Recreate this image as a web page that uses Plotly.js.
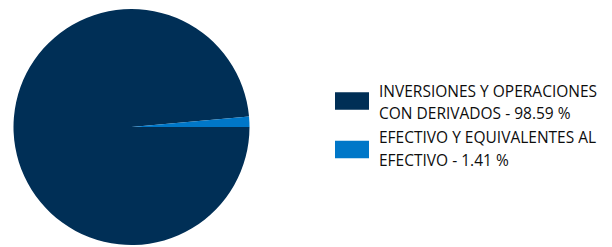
<!DOCTYPE html>
<html><head><meta charset="utf-8">
<script src="https://cdn.plot.ly/plotly-3.0.1.min.js"></script>
<style>html,body{margin:0;padding:0;background:#fff}#chart{width:612px;height:247px}</style>
</head><body><div id="chart"></div>
<script>
const labels = ["INVERSIONES Y OPERACIONES CON DERIVADOS", "EFECTIVO Y EQUIVALENTES AL EFECTIVO"];
const values = [98.59, 1.41];
const colors = ["#002F56", "#0077C8"];
const legendLines = [["INVERSIONES Y OPERACIONES", "CON DERIVADOS - 98.59 %"], ["EFECTIVO Y EQUIVALENTES AL", "EFECTIVO - 1.41 %"]];

const W = 612, H = 247;
const px = x => x / W, py = y => 1 - y / H;

const shapes = [], annotations = [];
const swatchTops = [92.3, 140.7];
const lineCenters = [[91, 112.5], [137, 159.5]];
legendLines.forEach((lines, i) => {
  const top = swatchTops[i];
  shapes.push({type: "rect", xref: "paper", yref: "paper",
    x0: px(335), x1: px(369), y0: py(top + 17.5), y1: py(top),
    fillcolor: colors[i], line: {width: 0}});
  lines.forEach((line, j) => {
    annotations.push({xref: "paper", yref: "paper", x: px(376.5), y: py(lineCenters[i][j]),
      xanchor: "left", yanchor: "middle", align: "left", showarrow: false,
      text: line,
      font: {family: "Open Sans", size: 15.5, color: "#0d0d0d"}});
  });
});

Plotly.newPlot("chart", [{
  type: "pie", labels: labels, values: values, sort: false,
  direction: "clockwise", rotation: 90,
  marker: {colors: colors, line: {width: 0}},
  textinfo: "none", hoverinfo: "none",
  domain: {x: [px(13.5), px(249.5)], y: [py(245), py(9)]}
}], {
  width: W, height: H, margin: {l: 0, r: 0, t: 0, b: 0},
  showlegend: false, paper_bgcolor: "#fff",
  shapes: shapes, annotations: annotations
}, {staticPlot: true});
</script></body></html>
